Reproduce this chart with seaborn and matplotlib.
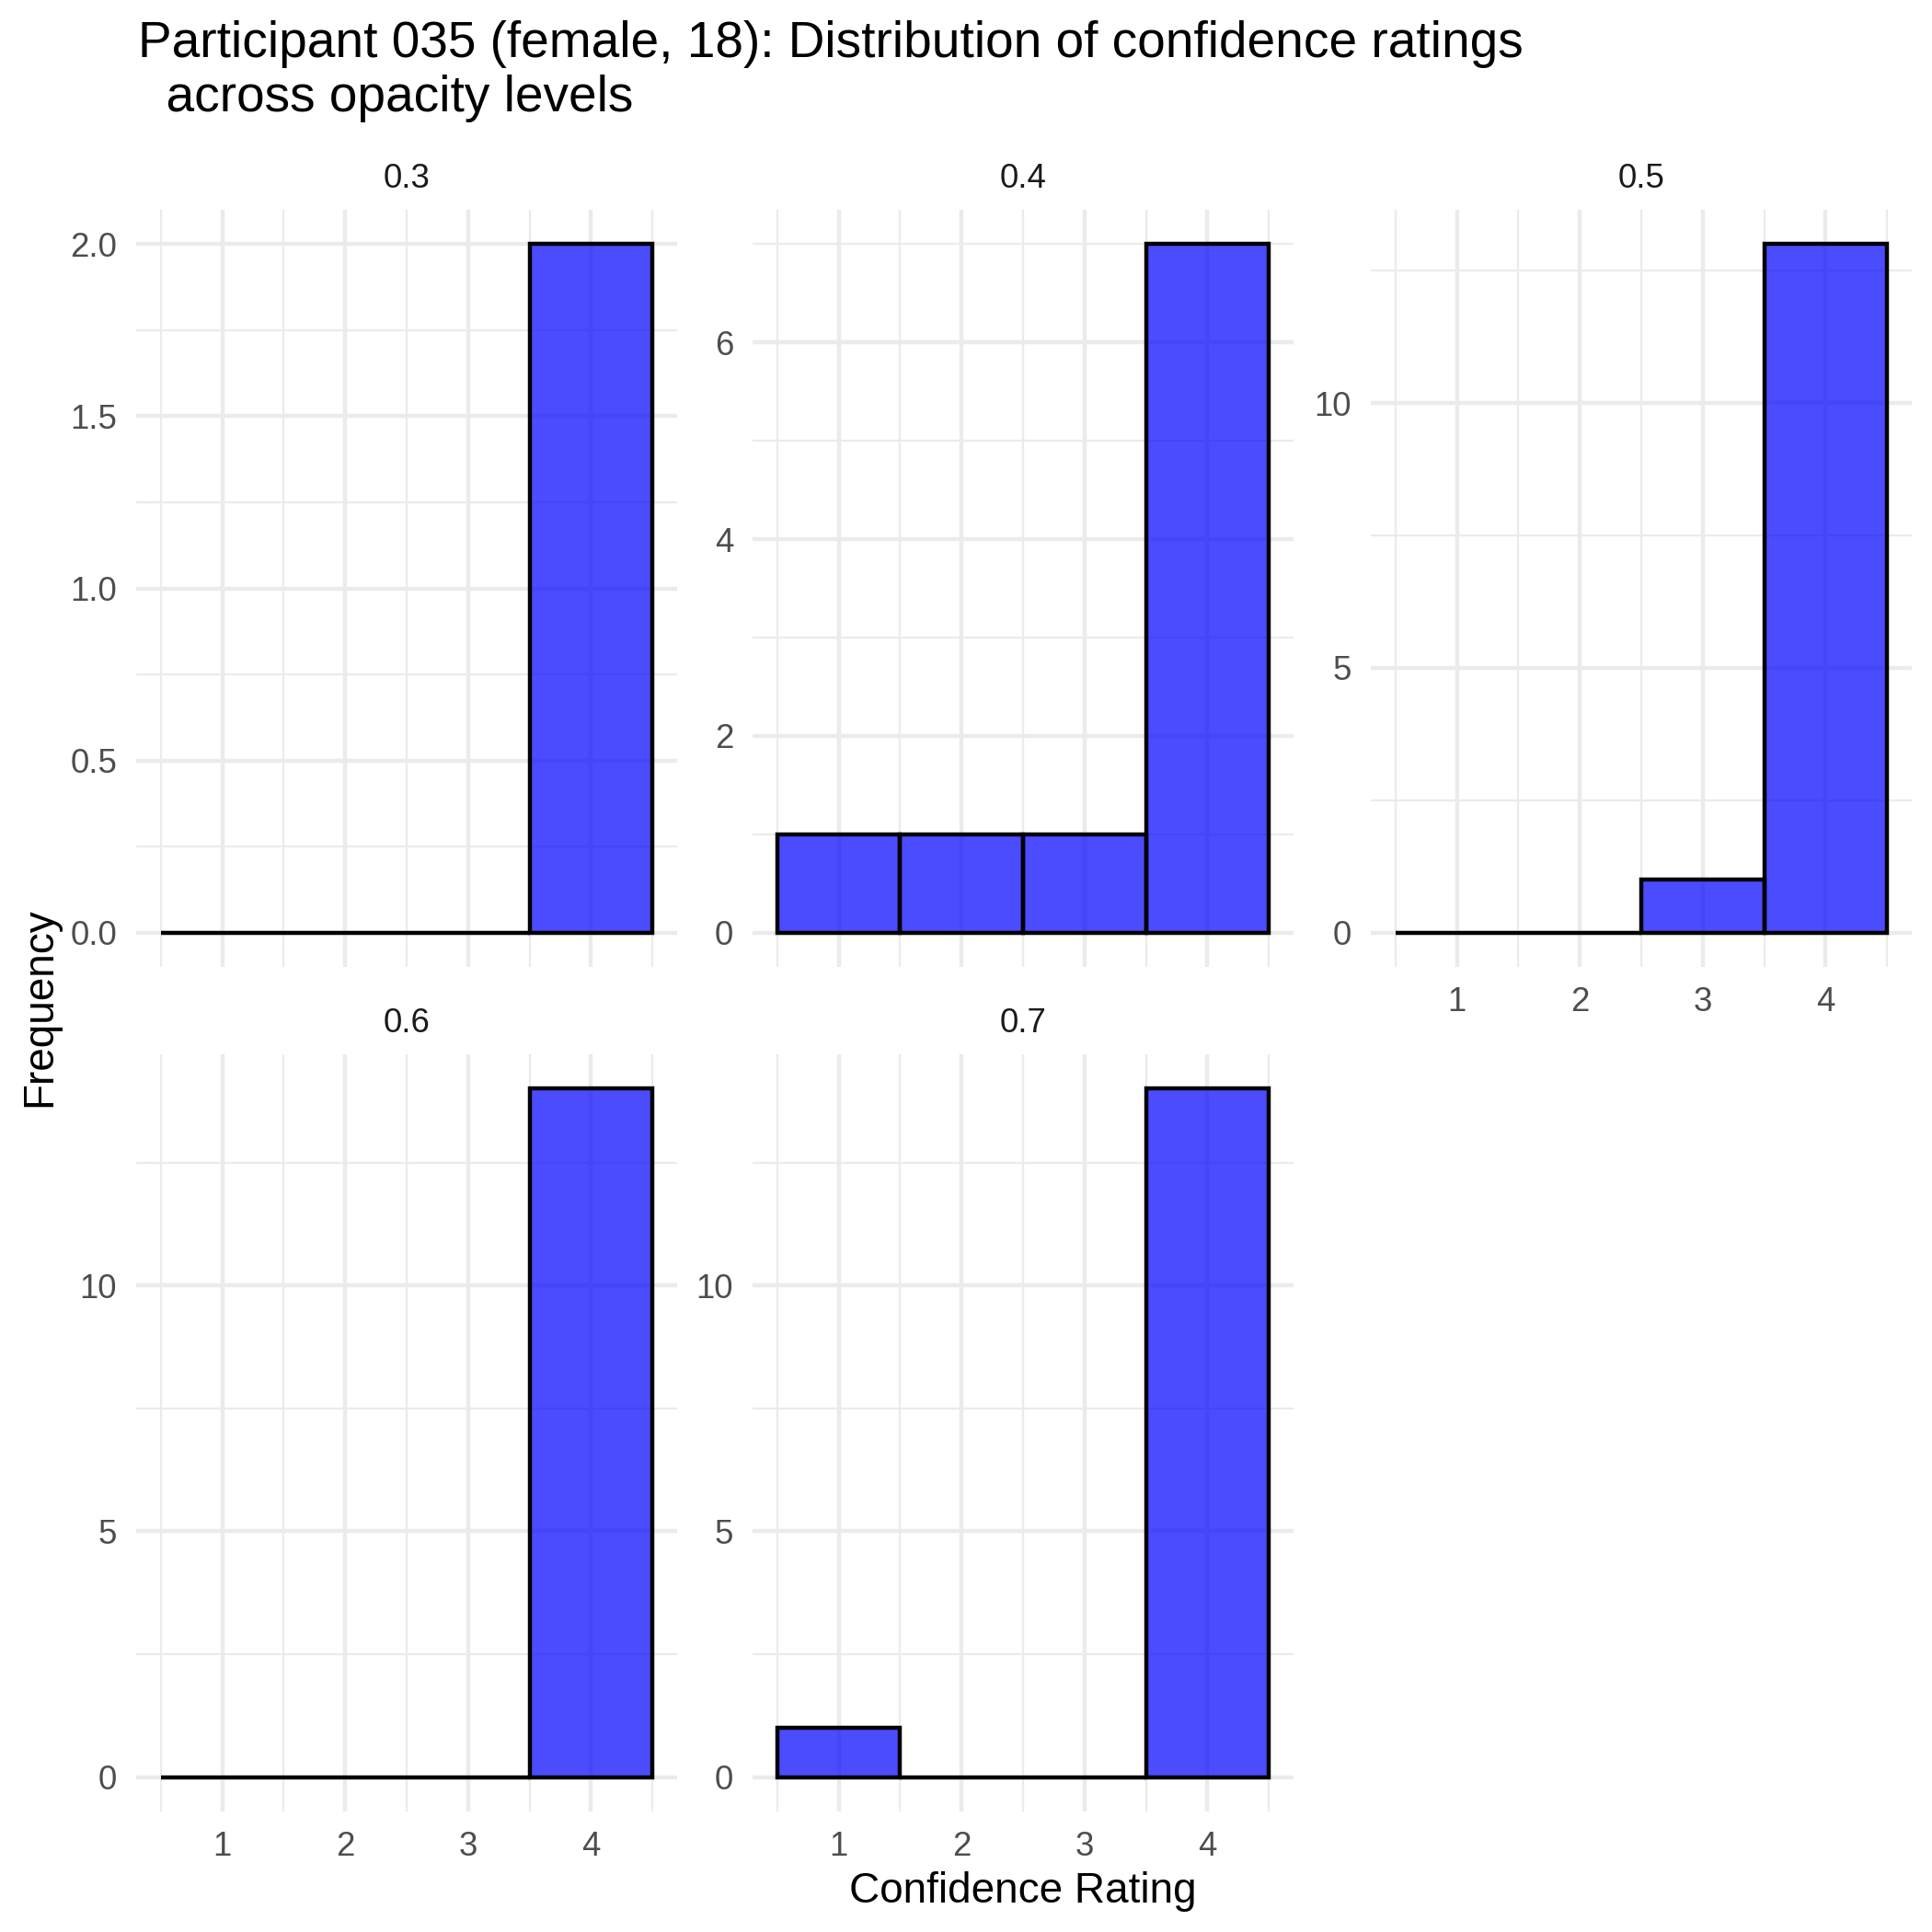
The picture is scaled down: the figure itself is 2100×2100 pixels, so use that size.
import numpy as np
import pandas as pd
import matplotlib
matplotlib.use("Agg")
import matplotlib.pyplot as plt
import seaborn as sns
from matplotlib.ticker import FixedLocator

# ---- data ----
ratings = [1, 2, 3, 4]
opacity_levels = ["0.3", "0.4", "0.5", "0.6", "0.7"]
counts_03 = [0, 0, 0, 2]
counts_04 = [1, 1, 1, 7]
counts_05 = [0, 0, 1, 13]
counts_06 = [0, 0, 0, 14]
counts_07 = [1, 0, 0, 14]
y_breaks_03 = [0.0, 0.5, 1.0, 1.5, 2.0]
y_breaks_04 = [0, 2, 4, 6]
y_breaks_05 = [0, 5, 10]
y_breaks_06 = [0, 5, 10]
y_breaks_07 = [0, 5, 10]
x_tick_labels = ["1", "2", "3", "4"]

title = "Participant 035 (female, 18): Distribution of confidence ratings\n  across opacity levels"

all_counts = [counts_03, counts_04, counts_05, counts_06, counts_07]
all_breaks = [y_breaks_03, y_breaks_04, y_breaks_05, y_breaks_06, y_breaks_07]

df = pd.DataFrame({
    "opacity": np.repeat(opacity_levels, len(ratings)),
    "rating": ratings * len(opacity_levels),
    "count": np.concatenate(all_counts),
})

sns.set_theme(style="white")
plt.rcParams["font.family"] = ["Liberation Sans", "DejaVu Sans"]

W = 2100.0
fig = plt.figure(figsize=(7, 7), dpi=300)
fig.patch.set_facecolor("white")

col_left = [148, 818, 1490]
row_top = [228, 1146]
pw, ph = 588, 823
positions = [(0, 0), (0, 1), (0, 2), (1, 0), (1, 1)]

grid_col = "#EBEBEB"
for i, (lvl, brks) in enumerate(zip(opacity_levels, all_breaks)):
    r, c = positions[i]
    ax = fig.add_axes([col_left[c] / W, 1 - (row_top[r] + ph) / W, pw / W, ph / W])
    sub = df[df["opacity"] == lvl]
    sns.histplot(data=sub, x="rating", weights="count", discrete=True,
                 binrange=(1, 4), ax=ax, edgecolor="black", linewidth=1.07)
    for p in ax.patches:
        p.set_alpha(None)
        p.set_facecolor((0, 0, 1, 0.7))
        p.set_edgecolor("black")
        p.set_linewidth(1.07)
        p.set_zorder(3)
    ymax = max(all_counts[i])
    ax.set_ylim(-0.05 * ymax, 1.05 * ymax)
    ax.set_xlim(0.3, 4.7)
    step = brks[1] - brks[0]
    minors = [b + step / 2 for b in [brks[0] - step] + list(brks)]
    ax.yaxis.set_major_locator(FixedLocator(brks))
    ax.yaxis.set_minor_locator(FixedLocator(minors))
    ax.xaxis.set_major_locator(FixedLocator(ratings))
    ax.xaxis.set_minor_locator(FixedLocator([x + 0.5 for x in [0] + ratings]))
    ax.set_yticklabels([("%.1f" % b) if isinstance(b, float) else str(b) for b in brks])
    ax.set_xticklabels(x_tick_labels)
    ax.grid(which="major", color=grid_col, linewidth=1.07)
    ax.grid(which="minor", color=grid_col, linewidth=0.53)
    ax.set_axisbelow(True)
    for s in ax.spines.values():
        s.set_visible(False)
    ax.set_facecolor("white")
    ax.tick_params(which="both", length=0, pad=5, labelsize=8.8, labelcolor="#4D4D4D")
    if r == 0 and c < 2:
        ax.tick_params(axis="x", labelbottom=False)
    ax.set_xlabel("")
    ax.set_ylabel("")
    ax.text(0.5, 1 + 34 / ph, lvl, transform=ax.transAxes, ha="center", va="center",
            fontsize=8.8, color="#1A1A1A")

fig.text(150 / W, 1 - 22 / W, title, ha="left", va="top", fontsize=13.2,
         color="black", linespacing=1.18)
fig.text(43 / W, 1 - 1095 / W, "Frequency", rotation=90, ha="center", va="center",
         fontsize=11, color="black")
fig.text(1112 / W, 1 - 2056 / W, "Confidence Rating", ha="center", va="center",
         fontsize=11, color="black")

fig.savefig("out.png", dpi=300, facecolor="white")
